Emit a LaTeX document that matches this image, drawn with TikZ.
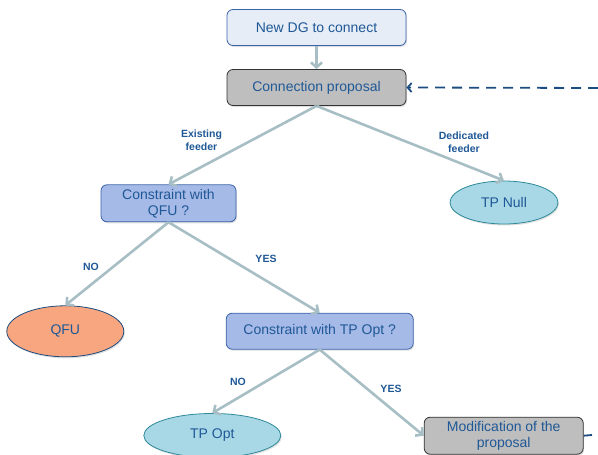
\documentclass[tikz,border=0pt]{standalone}
\usepackage{fontspec}
\setmainfont{Liberation Sans}
\usetikzlibrary{arrows.meta,shapes.geometric,shadows}

\definecolor{txtblue}{RGB}{31,88,150}
\definecolor{linkgray}{RGB}{166,190,196}
\definecolor{loopblue}{RGB}{28,76,128}
\definecolor{startfill}{RGB}{230,237,247}
\definecolor{propfill}{RGB}{190,190,190}
\definecolor{testfill}{RGB}{166,186,232}
\definecolor{testdraw}{RGB}{58,100,168}
\definecolor{tpfill}{RGB}{168,216,230}
\definecolor{tpdraw}{RGB}{46,138,154}
\definecolor{qfufill}{RGB}{247,166,128}

\begin{document}
\begin{tikzpicture}[x=1pt, y=-1pt,
    box/.style={draw, rounded corners=6pt, minimum height=36pt, inner sep=1pt,
        align=center, text=txtblue, line width=0.8pt,
        font=\fontsize{14}{16}\selectfont,
        drop shadow={opacity=0.25, shadow xshift=1pt, shadow yshift=-1.5pt}},
    leaf/.style={draw, ellipse, inner sep=0pt, text=txtblue, line width=0.8pt,
        font=\fontsize{14}{16}\selectfont,
        drop shadow={opacity=0.25, shadow xshift=1pt, shadow yshift=-1.5pt}},
    link/.style={linkgray, line width=2.6pt, -{Straight Barb[length=5pt, width=11pt]}},
    tag/.style={text=txtblue, align=center, font=\bfseries\fontsize{10.5}{13}\selectfont}]

    \useasboundingbox (0,0) rectangle (598,455);

    % Cajas
    \node[box, fill=startfill, draw=testdraw, minimum width=179pt] (newdg) at (316.5,27.5) {New DG to connect};
    \node[box, fill=propfill, draw=black!80, minimum width=179pt] (prop) at (316.5,87.5) {Connection proposal};
    \node[box, fill=testfill, draw=testdraw, minimum width=135pt, minimum height=37pt] (testqfu) at (168.5,203.3) {Constraint with\\QFU ?};
    \node[box, fill=testfill, draw=testdraw, minimum width=187pt] (testtp) at (319.7,331.2) {Constraint with TP Opt ?};
    \node[box, fill=propfill, draw=black!80, minimum width=159pt, minimum height=37pt] (modif) at (503.7,435.7) {Modification of the\\proposal};

    % Elipses
    \node[leaf, fill=tpfill, draw=tpdraw, minimum width=108pt, minimum height=43pt] (tpnull) at (504,202.5) {TP Null};
    \node[leaf, fill=qfufill, draw=loopblue, minimum width=117pt, minimum height=51pt] (qfu) at (65.3,331.3) {QFU};
    \node[leaf, fill=tpfill, draw=tpdraw, minimum width=137pt, minimum height=44pt] (tpopt) at (212.3,435.5) {TP Opt};

    % Flechas
    \draw[link] (newdg.south) -- (prop.north);
    \draw[link] (prop.south) -- (testqfu.north);
    \draw[link] (prop.south) -- (tpnull.north);
    \draw[link] (testqfu.south) -- (qfu.north);
    \draw[link] (testqfu.south) -- (testtp.north);
    \draw[link] (testtp.south) -- (tpopt.north);
    \draw[link] (testtp.south) -- (modif.west);

    % Etiquetas
    \node[tag] (lexist) at (201.5,140) {Existing\\feeder};
    \node[tag] (ldedic) at (464,142) {Dedicated\\feeder};
    \node[tag] (lno1) at (91,267) {NO};
    \node[tag] (lyes1) at (266,259) {YES};
    \node[tag] (lno2) at (238,382) {NO};
    \node[tag] (lyes2) at (391,389) {YES};

    % Retorno (línea discontinua)
    \coordinate (loopin) at (598,88);
    \coordinate (loopout) at (592,435);
    \draw[loopblue, line width=1.8pt, dash pattern=on 10pt off 7pt,
        -{Straight Barb[length=4pt, width=9pt]}] (loopin) -- (prop.east);
    \draw[loopblue, line width=1.8pt] (modif.east) -- (loopout);
\end{tikzpicture}
\end{document}
